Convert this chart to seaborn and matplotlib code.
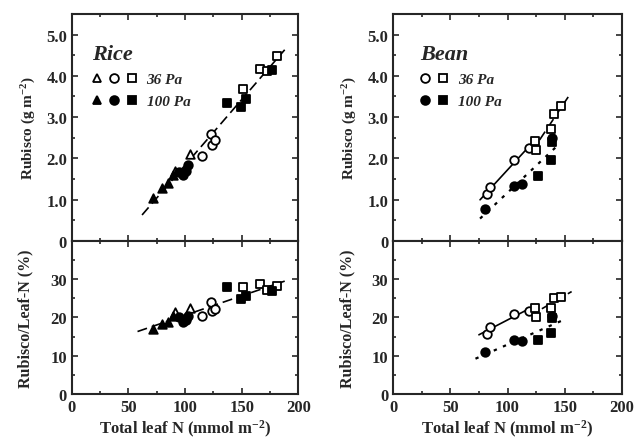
import numpy as np
import pandas as pd
import matplotlib
matplotlib.use("Agg")
import matplotlib.pyplot as plt
import seaborn as sns
from matplotlib.lines import Line2D
from matplotlib.legend_handler import HandlerTuple
from matplotlib.ticker import MultipleLocator

# ---- data ----
# rice, 36 Pa (open symbols)
rice36_tri_n = [91, 104]
rice36_tri_rub = [1.70, 2.10]
rice36_tri_pct = [21.5, 22.5]
rice36_cir_n = [115, 123, 124, 126]
rice36_cir_rub = [2.05, 2.60, 2.33, 2.45]
rice36_cir_pct = [20.4, 24.0, 21.6, 22.2]
rice36_sq_n = [151, 166, 172, 181]
rice36_sq_rub = [3.69, 4.17, 4.12, 4.47]
rice36_sq_pct = [27.9, 28.7, 27.2, 28.1]
# rice, 100 Pa (filled symbols)
rice100_tri_n = [71.5, 80, 85, 89]
rice100_tri_rub = [1.04, 1.28, 1.40, 1.59]
rice100_tri_pct = [17.0, 18.3, 18.8, 20.4]
rice100_cir_n = [95, 98, 101, 103]
rice100_cir_rub = [1.68, 1.60, 1.70, 1.85]
rice100_cir_pct = [20.2, 18.9, 19.4, 20.5]
rice100_sq_n = [137, 149, 154, 177]
rice100_sq_rub = [3.35, 3.25, 3.45, 4.15]
rice100_sq_pct = [28.0, 24.8, 25.6, 26.8]
# bean, 36 Pa
bean36_cir_n = [82, 85, 106, 119]
bean36_cir_rub = [1.13, 1.30, 1.95, 2.26]
bean36_cir_pct = [15.8, 17.6, 21.0, 21.8]
bean36_sq_n = [124, 125, 138, 141, 147]
bean36_sq_rub = [2.43, 2.20, 2.72, 3.07, 3.27]
bean36_sq_pct = [22.6, 20.2, 22.6, 25.0, 25.3]
# bean, 100 Pa
bean100_cir_n = [80, 106, 113, 139]
bean100_cir_rub = [0.77, 1.32, 1.38, 2.50]
bean100_cir_pct = [11.0, 14.0, 13.9, 20.5]
bean100_sq_n = [127, 138, 139]
bean100_sq_rub = [1.57, 1.95, 2.40]
bean100_sq_pct = [14.0, 16.0, 19.8]


def frame(species, co2, shape, n, rub, pct):
    return pd.DataFrame({"species": species, "co2": co2, "shape": shape,
                         "N": n, "rub": rub, "pct": pct})


df = pd.concat([
    frame("Rice", 36, "^", rice36_tri_n, rice36_tri_rub, rice36_tri_pct),
    frame("Rice", 36, "o", rice36_cir_n, rice36_cir_rub, rice36_cir_pct),
    frame("Rice", 36, "s", rice36_sq_n, rice36_sq_rub, rice36_sq_pct),
    frame("Rice", 100, "^", rice100_tri_n, rice100_tri_rub, rice100_tri_pct),
    frame("Rice", 100, "o", rice100_cir_n, rice100_cir_rub, rice100_cir_pct),
    frame("Rice", 100, "s", rice100_sq_n, rice100_sq_rub, rice100_sq_pct),
    frame("Bean", 36, "o", bean36_cir_n, bean36_cir_rub, bean36_cir_pct),
    frame("Bean", 36, "s", bean36_sq_n, bean36_sq_rub, bean36_sq_pct),
    frame("Bean", 100, "o", bean100_cir_n, bean100_cir_rub, bean100_cir_pct),
    frame("Bean", 100, "s", bean100_sq_n, bean100_sq_rub, bean100_sq_pct),
], ignore_index=True)

sns.set_theme(style="ticks")
plt.rcParams["font.family"] = ["Liberation Serif", "DejaVu Serif"]
plt.rcParams["font.weight"] = "bold"
plt.rcParams["mathtext.fontset"] = "custom"
plt.rcParams["mathtext.rm"] = "Liberation Serif:bold"
plt.rcParams["mathtext.bf"] = "Liberation Serif:bold"
plt.rcParams["mathtext.default"] = "bf"
plt.rcParams["axes.linewidth"] = 1.5

fig = plt.figure(figsize=(6.36, 4.39), dpi=100)
axes = {
    ("Rice", "rub"): fig.add_axes([0.113, 0.449, 0.356, 0.517]),
    ("Rice", "pct"): fig.add_axes([0.113, 0.100, 0.356, 0.349]),
    ("Bean", "rub"): fig.add_axes([0.618, 0.449, 0.360, 0.517]),
    ("Bean", "pct"): fig.add_axes([0.618, 0.100, 0.360, 0.349]),
}

MS = 38


def draw_points(ax, sub, ycol):
    for (co2, shape), g in sub.groupby(["co2", "shape"]):
        face = "white" if co2 == 36 else "black"
        sns.scatterplot(data=g, x="N", y=ycol, marker=shape, s=MS,
                        facecolor=face, edgecolor="black", linewidth=1.3,
                        ax=ax, zorder=3)


def fit_line(ax, g, ycol, x0, x1, ls, lw=1.2):
    k, b = np.polyfit(g["N"], g[ycol], 1)
    xs = np.array([x0, x1])
    ax.plot(xs, k * xs + b, color="black", ls=ls, lw=lw, zorder=2)


for (sp, var), ax in axes.items():
    sub = df[df.species == sp]
    draw_points(ax, sub, var)
    if sp == "Rice":
        if var == "rub":
            fit_line(ax, sub, var, 62, 188, (0, (6, 3)))
        else:
            fit_line(ax, sub, var, 58, 188, (0, (6, 3)))
    else:
        c36 = sub[(sub.co2 == 36) & (sub["shape"] == "o")]
        s36 = sub[(sub.co2 == 36) & (sub["shape"] == "s")]
        a100 = sub[sub.co2 == 100]
        if var == "rub":
            fit_line(ax, c36, var, 76, 117, "-")
            fit_line(ax, s36, var, 128, 153, (0, (6, 3)))
            fit_line(ax, a100, var, 76, 142, (0, (1.5, 3)), lw=1.6)
        else:
            fit_line(ax, c36, var, 75, 118, "-")
            fit_line(ax, s36, var, 130, 156, (0, (6, 3)))
            fit_line(ax, a100, var, 72, 148, (0, (1.5, 3)), lw=1.6)

    ax.set_xlim(0, 200)
    ax.xaxis.set_major_locator(MultipleLocator(50))
    ax.xaxis.set_minor_locator(MultipleLocator(25))
    ax.tick_params(which="both", direction="in", top=True, right=True,
                   width=1.2, labelsize=12)
    ax.tick_params(which="major", length=4)
    ax.tick_params(which="minor", length=2.5)
    ax.set_xlabel("")
    if var == "rub":
        ax.set_ylim(0, 5.5)
        ax.set_yticks([0, 1, 2, 3, 4, 5])
        ax.set_yticklabels(["0", "1.0", "2.0", "3.0", "4.0", "5.0"])
        ax.yaxis.set_minor_locator(MultipleLocator(0.5))
        ax.tick_params(labelbottom=False)
        ax.set_ylabel("Rubisco (g m$^{-2}$)", fontsize=11, fontweight="bold",
                      labelpad=6)
    else:
        ax.set_ylim(0, 40)
        ax.set_yticks([0, 10, 20, 30, 40])
        ax.set_yticklabels(["0", "10", "20", "30", ""])
        ax.yaxis.set_minor_locator(MultipleLocator(5))
        ax.set_xticks([0, 50, 100, 150, 200])
        ax.set_xlabel("Total leaf N (mmol m$^{-2}$)", fontsize=12,
                      fontweight="bold", labelpad=2)
        ax.set_ylabel("Rubisco/Leaf-N (%)", fontsize=11.5, fontweight="bold",
                      labelpad=12)
    for lab in ax.get_xticklabels() + ax.get_yticklabels():
        lab.set_fontweight("bold")


# legends with grouped markers
def mk(marker, filled):
    return Line2D([], [], ls="none", marker=marker, markersize=6.3,
                  markerfacecolor="black" if filled else "white",
                  markeredgecolor="black", markeredgewidth=1.3)


leg_font = {"family": "Liberation Serif", "style": "italic",
            "weight": "bold", "size": 11}
title_font = {"family": "Liberation Serif", "style": "italic",
              "weight": "bold", "size": 16}

rice_h = [tuple(mk(m, False) for m in ["^", "o", "s"]),
          tuple(mk(m, True) for m in ["^", "o", "s"])]
bean_h = [tuple(mk(m, False) for m in ["o", "s"]),
          tuple(mk(m, True) for m in ["o", "s"])]

for ax, handles, title, hl, x0 in [
        (axes[("Rice", "rub")], rice_h, "Rice", 3.0, 0.06),
        (axes[("Bean", "rub")], bean_h, "Bean", 1.9, 0.09)]:
    ax.legend(handles, ["36 Pa", "100 Pa"],
              handler_map={tuple: HandlerTuple(ndivide=None, pad=0.5)},
              loc="upper left", bbox_to_anchor=(x0, 0.895),
              frameon=False, prop=leg_font, title=title,
              title_fontproperties=title_font, alignment="left",
              handlelength=hl, handletextpad=0.6, labelspacing=0.55,
              borderaxespad=0)

fig.savefig("out.png", dpi=100)
